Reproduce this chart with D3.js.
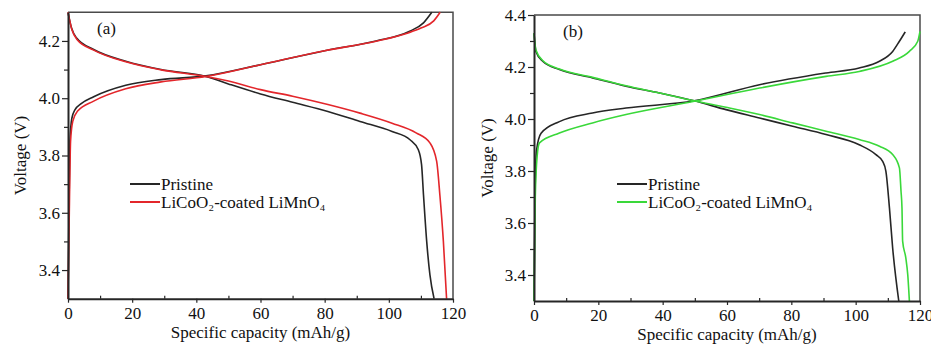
<!DOCTYPE html>
<html>
<head>
<meta charset="utf-8">
<script src="https://cdn.jsdelivr.net/npm/d3@7"></script>
<style>
  html, body { margin: 0; padding: 0; background: #fff; }
  svg { display: block; }
  svg text { font-family: "Liberation Serif", "Times New Roman", "DejaVu Serif", serif; }
</style>
</head>
<body>
<div id="chart"></div>
<script>
// Charge/discharge curves, [capacity mAh/g, voltage V].

// ── Panel (a) ───────────────────────────────────────────────
const aPristineCharge = [
  [0, 3.3], [0.3, 3.6], [0.6, 3.85], [1.2, 3.93], [2.2, 3.96], [4, 3.98],
  [8, 4.005], [18, 4.045], [29, 4.065], [43, 4.078], [60, 4.117], [80, 4.166],
  [96, 4.2], [106.5, 4.234], [110.8, 4.263], [113.4, 4.3]
];
const aCoatedCharge = [
  [0, 3.3], [0.4, 3.6], [0.8, 3.85], [1.5, 3.92], [3, 3.955], [8, 3.99],
  [18, 4.033], [29, 4.057], [43, 4.076], [60, 4.117], [80, 4.166], [96, 4.199],
  [106, 4.228], [110, 4.245], [114, 4.27], [116, 4.3]
];
const aPristineDischarge = [
  [0, 4.3], [1.1, 4.245], [2.7, 4.21], [8, 4.17], [18, 4.129], [29, 4.1],
  [43, 4.076], [50, 4.05], [60, 4.015], [70, 3.986], [81, 3.954], [91, 3.919],
  [101, 3.884], [106.6, 3.855], [109.2, 3.82], [110.2, 3.768], [110.8, 3.663],
  [111.8, 3.5], [112.8, 3.384], [114.1, 3.3]
];
const aCoatedDischarge = [
  [0, 4.3], [1.2, 4.24], [2.8, 4.205], [8, 4.168], [18, 4.127], [29, 4.099],
  [43, 4.076], [50, 4.06], [60, 4.03], [70, 4.007], [81, 3.978], [91, 3.948],
  [101, 3.913], [108.5, 3.879], [112.8, 3.844], [114.9, 3.78], [115.9, 3.663],
  [117, 3.5], [118, 3.3]
];

// ── Panel (b) ───────────────────────────────────────────────
const bPristineCharge = [
  [0, 3.3], [0.3, 3.7], [0.8, 3.88], [2.2, 3.945], [7.9, 3.99], [18.2, 4.023],
  [28.6, 4.042], [49.8, 4.07], [70.1, 4.132], [90.8, 4.177], [101.1, 4.196],
  [107.4, 4.222], [111.5, 4.26], [113.6, 4.299], [115.4, 4.335]
];
const bCoatedCharge = [
  [0, 3.3], [0.4, 3.7], [1.0, 3.86], [1.7, 3.908], [7.9, 3.946], [18.2, 3.985],
  [28.6, 4.017], [49.8, 4.068], [70.1, 4.119], [90.8, 4.164], [101.1, 4.183],
  [111.5, 4.222], [116.7, 4.26], [119.3, 4.299], [120, 4.337]
];
const bPristineDischarge = [
  [0, 4.33], [0.6, 4.26], [2.7, 4.222], [7.9, 4.19], [18.2, 4.158], [28.6, 4.126],
  [39, 4.1], [49.8, 4.07], [59.7, 4.036], [70.1, 4.004], [80.4, 3.972],
  [90.8, 3.94], [101.1, 3.901], [106.3, 3.863], [108.4, 3.837], [109.4, 3.799],
  [110.5, 3.658], [111.5, 3.504], [113.4, 3.3]
];
const bCoatedDischarge = [
  [0, 4.33], [0.6, 4.265], [2.7, 4.225], [7.9, 4.192], [18.2, 4.16], [28.6, 4.128],
  [39, 4.1], [49.8, 4.07], [59.7, 4.045], [70.1, 4.017], [80.4, 3.985],
  [90.8, 3.953], [101.1, 3.921], [107.4, 3.895], [111.5, 3.863], [113.6, 3.812],
  [114.1, 3.722], [114.4, 3.658], [114.6, 3.53], [115.6, 3.465], [116.2, 3.4],
  [116.7, 3.3]
];

const xTicks      = [0, 20, 40, 60, 80, 100, 120];
const aYTicks     = [3.4, 3.6, 3.8, 4.0, 4.2];
const bYTicks     = [3.4, 3.6, 3.8, 4.0, 4.2, 4.4];
const legendNames = ['Pristine', 'LiCoO₂-coated LiMnO₄'];

const W = 931, H = 349;
const INK = '#262626';
const SERIF = '"Liberation Serif", "Times New Roman", serif';

const panels = [
  {
    tag: '(a)', left: 68, right: 453, top: 12.3, bottom: 298.7,
    yDomain: [3.3, 4.3], yTicks: aYTicks, color: '#e3262b',
    series: [aPristineCharge, aPristineDischarge, aCoatedCharge, aCoatedDischarge],
    legendX: 130, yTitleX: 20
  },
  {
    tag: '(b)', left: 534, right: 920, top: 15, bottom: 301,
    yDomain: [3.3, 4.4], yTicks: bYTicks, color: '#3ad83a',
    series: [bPristineCharge, bPristineDischarge, bCoatedCharge, bCoatedDischarge],
    legendX: 617, yTitleX: 487
  }
];

const svg = d3.select('#chart').append('svg')
  .attr('width', W)
  .attr('height', H)
  .attr('font-family', SERIF);

panels.forEach(p => {
  const x = d3.scaleLinear().domain([0, 120]).range([p.left, p.right]);
  const y = d3.scaleLinear().domain(p.yDomain).range([p.bottom, p.top]);
  const g = svg.append('g');

  // frame (top + right)
  g.append('path')
    .attr('d', `M${p.left},${p.top} H${p.right} V${p.bottom}`)
    .attr('fill', 'none')
    .attr('stroke', '#4a4a4a')
    .attr('stroke-width', 1.5);

  // curves
  const line = d3.line()
    .x(d => x(d[0]))
    .y(d => y(d[1]))
    .curve(d3.curveMonotoneX);

  const colors = [INK, INK, p.color, p.color];
  p.series.forEach((s, i) => {
    g.append('path')
      .datum(s)
      .attr('fill', 'none')
      .attr('stroke', colors[i])
      .attr('stroke-width', 1.6)
      .attr('stroke-linejoin', 'round')
      .attr('d', line);
  });

  // minor ticks
  const yMinor = d3.range(p.yDomain[0] + 0.2, p.yDomain[1] + 0.001, 0.2)
    .filter(v => v < p.yDomain[1] - 0.001);
  g.append('g')
    .attr('transform', `translate(${p.left},0)`)
    .call(d3.axisLeft(y).tickValues(yMinor).tickSize(4).tickFormat('').tickSizeOuter(0))
    .call(a => a.select('.domain').remove())
    .call(a => a.selectAll('line').attr('stroke', INK).attr('stroke-width', 1.2));

  g.append('g')
    .attr('transform', `translate(0,${p.bottom})`)
    .call(d3.axisBottom(x).tickValues(d3.range(10, 120, 20)).tickSize(-3).tickFormat('').tickSizeOuter(0))
    .call(a => a.select('.domain').remove())
    .call(a => a.selectAll('line').attr('stroke', INK).attr('stroke-width', 1.2));

  // main axes
  const yAxis = g.append('g')
    .attr('transform', `translate(${p.left},0)`)
    .call(d3.axisLeft(y).tickValues(p.yTicks).tickSize(6).tickPadding(2)
      .tickFormat(d3.format('.1f')).tickSizeOuter(0));

  const xAxis = g.append('g')
    .attr('transform', `translate(0,${p.bottom})`)
    .call(d3.axisBottom(x).tickValues(xTicks).tickSize(4).tickPadding(4)
      .tickFormat(d3.format('d')).tickSizeOuter(0));

  [yAxis, xAxis].forEach(a => {
    a.attr('font-family', SERIF).attr('font-size', 17);
    a.select('.domain').attr('stroke', INK).attr('stroke-width', 2);
    a.selectAll('line').attr('stroke', INK).attr('stroke-width', 1.2);
    a.selectAll('text').attr('fill', '#111');
  });

  // axis titles
  g.append('text')
    .attr('x', (p.left + p.right) / 2)
    .attr('y', p.bottom + 39)
    .attr('text-anchor', 'middle')
    .attr('fill', '#111')
    .attr('font-size', 17)
    .text('Specific capacity (mAh/g)');

  g.append('text')
    .attr('transform', `translate(${p.yTitleX},${(p.top + p.bottom) / 2}) rotate(-90)`)
    .attr('text-anchor', 'middle')
    .attr('dy', '0.35em')
    .attr('fill', '#111')
    .attr('font-size', 17)
    .text('Voltage (V)');

  // panel tag
  g.append('text')
    .attr('x', p.left + 29)
    .attr('y', p.top + 22)
    .attr('fill', '#111')
    .attr('font-size', 17)
    .text(p.tag);

  // legend
  const lg = g.append('g').attr('transform', `translate(${p.legendX},184)`);
  [INK, p.color].forEach((c, i) => {
    lg.append('line')
      .attr('x1', 0).attr('x2', 30)
      .attr('y1', i * 18).attr('y2', i * 18)
      .attr('stroke', c)
      .attr('stroke-width', 2);
    lg.append('text')
      .attr('x', 31)
      .attr('y', i * 18)
      .attr('dy', '0.33em')
      .attr('fill', '#111')
      .attr('font-size', 17)
      .text(legendNames[i]);
  });
});
</script>
</body>
</html>
